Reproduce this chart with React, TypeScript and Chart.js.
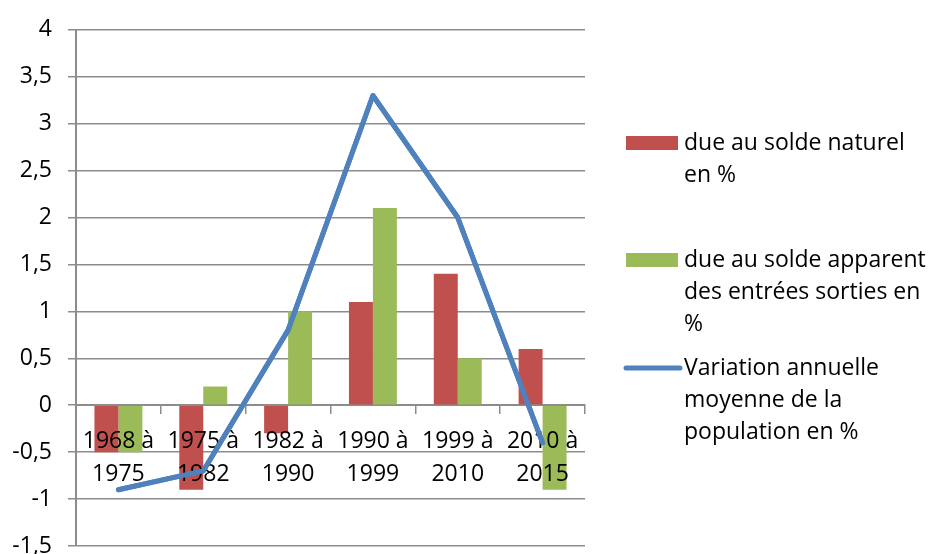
import React, { useEffect, useRef } from "react";
import { Chart, registerables } from "chart.js";
Chart.register(...registerables);

const categories: string[][] = [
  ["1968 à", "1975"],
  ["1975 à", "1982"],
  ["1982 à", "1990"],
  ["1990 à", "1999"],
  ["1999 à", "2010"],
  ["2010 à", "2015"],
];
const soldeNaturel = [-0.5, -0.9, -0.3, 1.1, 1.4, 0.6];
const soldeApparent = [-0.5, 0.2, 1.0, 2.1, 0.5, -0.9];
const variationAnnuelle = [-0.9, -0.7, 0.8, 3.3, 2.0, -0.4];
const seriesNames = [
  "due au solde naturel en %",
  "due au solde apparent des entrées sorties en %",
  "Variation annuelle moyenne de la population en %",
];
const legendLines = [
  ["due au solde naturel", "en %"],
  ["due au solde apparent", "des entrées sorties en", "%"],
  ["Variation annuelle", "moyenne de la", "population en %"],
];
const yMin = -1.5;
const yMax = 4;
const yStep = 0.5;

const RED = "#C0504D";
const GREEN = "#9BBB59";
const BLUE = "#4F81BD";
const GRID = "#8c8c8c";
const FONT = "'Open Sans', 'Noto Sans', sans-serif";

const legendPlugin = {
  id: "sideLegend",
  afterDraw(chart: any) {
    const ctx = chart.ctx;
    // redraw the line on top of the axis labels
    const lineMeta = chart.getDatasetMeta(2);
    if (lineMeta && lineMeta.controller) {
      ctx.save();
      lineMeta.controller.draw();
      ctx.restore();
    }
    const firstY = [143, 260, 368];
    const lh = 32;
    ctx.save();
    ctx.font = `23px ${FONT}`;
    ctx.textBaseline = "middle";
    ctx.textAlign = "left";
    chart.data.datasets.forEach((ds: any, i: number) => {
      const y = firstY[i];
      if (ds.type === "line") {
        ctx.strokeStyle = ds.borderColor;
        ctx.lineWidth = 5;
        ctx.lineCap = "round";
        ctx.beginPath();
        ctx.moveTo(626, y);
        ctx.lineTo(680, y);
        ctx.stroke();
      } else {
        ctx.fillStyle = ds.backgroundColor;
        ctx.fillRect(626, y - 7, 52, 14);
      }
      ctx.fillStyle = "#000";
      legendLines[i].forEach((t, k) => ctx.fillText(t, 684, y + k * lh));
    });
    ctx.restore();
  },
};

export default function App() {
  const ref = useRef<HTMLCanvasElement | null>(null);
  useEffect(() => {
    document.body.style.margin = "0";
    const chart = new Chart(ref.current as HTMLCanvasElement, {
      type: "bar",
      data: {
        labels: categories as any,
        datasets: [
          {
            type: "bar",
            label: seriesNames[0],
            data: soldeNaturel,
            backgroundColor: RED,
            order: 1,
          },
          {
            type: "bar",
            label: seriesNames[1],
            data: soldeApparent,
            backgroundColor: GREEN,
            order: 1,
          },
          {
            type: "line",
            label: seriesNames[2],
            data: variationAnnuelle,
            borderColor: BLUE,
            backgroundColor: BLUE,
            borderWidth: 5,
            pointRadius: 0,
            tension: 0,
            borderCapStyle: "round",
            borderJoinStyle: "round",
            order: 0,
          } as any,
        ],
      },
      options: {
        animation: false,
        responsive: false,
        maintainAspectRatio: false,
        layout: { padding: { left: 0, top: 29, right: 343, bottom: 34 } },
        datasets: { bar: { barPercentage: 1, categoryPercentage: 0.565 } } as any,
        plugins: { legend: { display: false }, tooltip: { enabled: false } },
        scales: {
          x: {
            position: { y: 0 } as any,
            offset: true,
            grid: { drawOnChartArea: false, drawTicks: true, tickLength: 8, offset: true, color: GRID, lineWidth: 1.5 },
            border: { display: true, color: GRID, width: 2 },
            ticks: { color: "#000", font: { family: FONT, size: 23, lineHeight: 1.43 }, padding: 12, maxRotation: 0, autoSkip: false, z: 1 } as any,
          },
          y: {
            min: yMin,
            max: yMax,
            afterFit: (s: any) => { s.width = 76; },
            grid: { color: GRID, lineWidth: 1.5, tickLength: 8, drawTicks: true },
            border: { display: true, color: GRID, width: 2 },
            ticks: {
              stepSize: yStep,
              color: "#000",
              padding: 16,
              font: { family: FONT, size: 23 },
              callback: (v: any) => String(v).replace(".", ","),
            },
          },
        },
      },
      plugins: [legendPlugin],
    });
    return () => chart.destroy();
  }, []);
  return (
    <div style={{ position: "fixed", left: 0, top: 0, width: 928, height: 554, overflow: "hidden", background: "#fff" }}>
      <canvas ref={ref} width={928} height={580} style={{ display: "block" }} />
    </div>
  );
}
